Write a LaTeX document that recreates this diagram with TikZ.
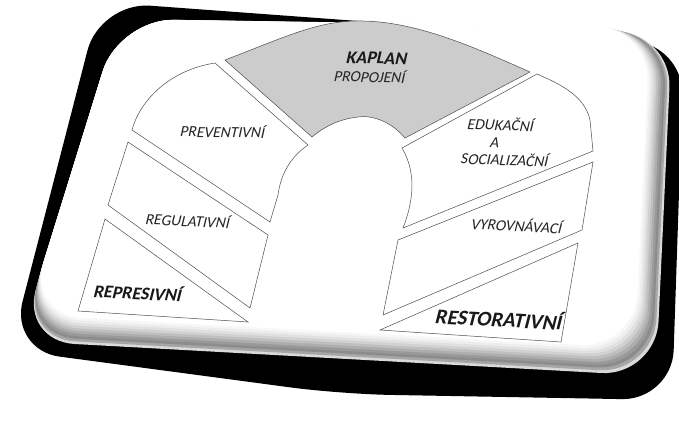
\documentclass[tikz,border=0pt]{standalone}
\usepackage{fontspec}
\setmainfont{Carlito}
\newfontfamily\slfont{Carlito}[FakeSlant=0.2]
\usetikzlibrary{calc}
\begin{document}
\begin{tikzpicture}[x=1pt,y=-1pt,inner sep=0pt,
  seg/.style={draw=black!70,line width=0.5pt},
  segfill/.style={seg,fill=black!20},
  lbl/.style={font=\slfont\fontsize{15.5}{16}\selectfont,text=black!85},
  lblb/.style={font=\slfont\bfseries\fontsize{18}{18}\selectfont,text=black!90},
  lblbb/.style={font=\slfont\bfseries\fontsize{21}{21}\selectfont,text=black!90}]
\useasboundingbox (0,0) rectangle (679,423);
\clip (0,0) rectangle (679,423);
% shadow
\fill[black,rounded corners=50pt] (56.6,170) -- (100,2) -- (684,45) -- (672,400) -- (340,394) -- (10,350) -- cycle;
% card bevel and face
\coordinate (oTL) at (119,19);
\coordinate (oTR) at (672,33);
\coordinate (oBR) at (656,376);
\coordinate (oBL) at (20,341);
\coordinate (fTL) at (119,19);
\coordinate (fTR) at (650,27);
\coordinate (fBR) at (635,348);
\coordinate (fBL) at (27,315);
\foreach \t/\c in {0/15,0.1/35,0.2/45,0.3/40,0.4/32,0.5/25,0.6/18,0.7/12,0.8/7,0.9/3,1/0}{
  \coordinate (la) at ($(oTL)!\t!(fTL)$);
  \coordinate (lb) at ($(oTR)!\t!(fTR)$);
  \coordinate (lc) at ($(oBR)!\t!(fBR)$);
  \coordinate (ld) at ($(oBL)!\t!(fBL)$);
  \fill[black!\c,rounded corners=55pt] ($(la)!0.5!(ld)$) -- (la) -- (lb) -- (lc) -- (ld) -- cycle;
}
% KAPLAN segment
\draw[segfill] (225,60) .. controls (290,35) and (320,20) .. (363,21)
  .. controls (420,22) and (480,50) .. (530,72) -- (405,138)
  .. controls (390,120) and (370,115) .. (358,117)
  .. controls (340,119) and (325,126) .. (312,137) -- cycle;
% left column
\draw[seg] (215,63) -- (308,145) .. controls (292,156) and (281,172) .. (278,195) -- (270,222)
  -- (132,130) .. controls (140,100) and (170,70) .. (215,63) -- cycle;
\draw[seg] (128,142) -- (268,235) -- (250,308) -- (108,205) -- cycle;
\draw[seg] (105,219) -- (248,322) -- (78,311) -- cycle;
% right column
\draw[seg] (402,148) -- (537,74) .. controls (560,84) and (585,96) .. (590,120) -- (593,151)
  -- (403,228) .. controls (412,205) and (418,175) .. (402,148) -- cycle;
\draw[seg] (398,240) -- (593,162) -- (582,230) -- (383,315) -- cycle;
\draw[seg] (380,330) -- (578,243) -- (561,342) -- cycle;
% labels
\node[lblb,rotate=-1.5] (kap) at (376,58) {KAPLAN};
\node[lbl,rotate=-1.5] (prop) at (369,76) {PROPOJENÍ};
\node[lbl,rotate=-1] (prev) at (222,131) {PREVENTIVNÍ};
\node[lbl,rotate=-2] (edu) at (500,124) {EDUKAČNÍ};
\node[lbl,rotate=-2] (a) at (494,143) {A};
\node[lbl,rotate=-2] (soc) at (504,159) {SOCIALIZAČNÍ};
\node[lbl,rotate=-2.5] (reg) at (187,220) {REGULATIVNÍ};
\node[lblb,rotate=-3] (rep) at (137,292) {REPRESIVNÍ};
\node[lbl,rotate=-3] (vyr) at (516,225) {VYROVNÁVACÍ};
\node[lblbb,rotate=-3] (rest) at (498,318) {RESTORATIVNÍ};
\end{tikzpicture}
\end{document}
